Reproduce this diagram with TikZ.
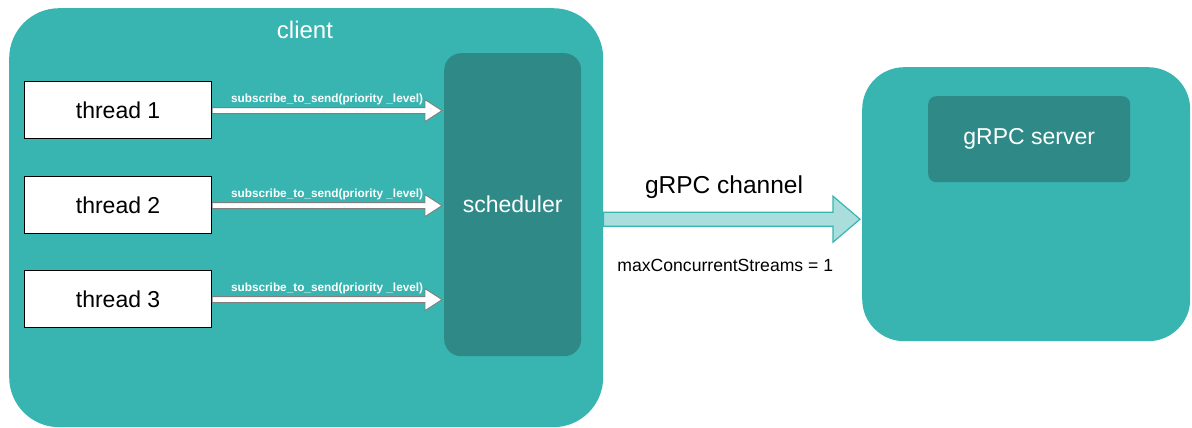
\documentclass[tikz,border=0pt]{standalone}
\usepackage{fontspec}
\setmainfont{Liberation Sans}
\usetikzlibrary{calc}
\definecolor{tealmain}{HTML}{38B5B1}
\definecolor{tealdark}{HTML}{2F8A87}
\definecolor{chanfill}{HTML}{A9DEDD}
\definecolor{arrowedge}{HTML}{7F7F7F}

% horizontal block arrow: start, tip, half shaft, head length, half head, style
\newcommand\blockarrow[6]{%
  \draw[#6] ($(#1)+(0,#3)$) -- ($(#2)+(-#4,#3)$) -- ($(#2)+(-#4,#5)$) -- (#2)
    -- ($(#2)+(-#4,-#5)$) -- ($(#2)+(-#4,-#3)$) -- ($(#1)+(0,-#3)$) -- cycle;}

\begin{document}
\begin{tikzpicture}[x=1pt,y=-1pt,
  container/.style={fill=tealmain, draw=none, anchor=north west, inner sep=0pt},
  inner/.style={fill=tealdark, draw=none, anchor=north west, inner sep=0pt},
  threadbox/.style={fill=white, draw=black, line width=1.2pt, anchor=north west,
    minimum width=187pt, minimum height=57pt, inner sep=0pt,
    font=\fontsize{23}{26}\selectfont},
  bigtext/.style={text=white, font=\fontsize{23}{26}\selectfont},
  calltext/.style={text=white, font=\bfseries\fontsize{11.8}{13}\selectfont, inner sep=0pt},
  callarrow/.style={fill=white, draw=arrowedge, line width=0.9pt, line join=miter},
  chanarrow/.style={fill=chanfill, draw=tealmain, line width=1.2pt, line join=miter},
]
\useasboundingbox (0,0) rectangle (1192,428);

% client container and its scheduler
\node[container, rounded corners=50pt, minimum width=594pt, minimum height=419pt] (client) at (9,8) {};
\node[bigtext, font=\fontsize{24}{26}\selectfont] (clientlbl) at (305,30) {client};
\node[inner, rounded corners=17pt, minimum width=137pt, minimum height=303pt] (sched) at (444,53) {};
\node[bigtext] (schedlbl) at (sched.center) {scheduler};

% server container
\node[container, rounded corners=42pt, minimum width=328pt, minimum height=274pt] (server) at (862,67) {};
\node[inner, rounded corners=8pt, minimum width=202pt, minimum height=86pt, bigtext] (grpcsrv) at (928,96) {gRPC server};

% worker threads
\node[threadbox] (t1) at (24,81) {thread 1};
\node[threadbox] (t2) at (24,176) {thread 2};
\node[threadbox] (t3) at (24,270) {thread 3};

% calls from threads into the scheduler
\foreach \t in {t1,t2,t3}{
  \coordinate (\t-tip) at ($(sched.west |- \t.east)+(-2,0.5)$);
  \coordinate (\t-tail) at ($(\t.east)+(0,0.5)$);
  \blockarrow{\t-tail}{\t-tip}{3}{17}{11}{callarrow}
  \node[calltext] at ($(\t-tail)!0.5!(\t-tip)+(0,-11)$) {subscribe\_to\_send(priority \_level)};
}

% channel to the server
\coordinate (ch-tail) at ($(client.east)+(0,1.5)$);
\coordinate (ch-tip) at ($(server.west |- ch-tail)+(-2,0)$);
\blockarrow{ch-tail}{ch-tip}{7}{27}{23}{chanarrow}
\node[font=\fontsize{24.5}{26}\selectfont] (chlbl) at ($(ch-tail)!0.47!(ch-tip)+(0,-32)$) {gRPC channel};
\node[font=\fontsize{17.6}{20}\selectfont] (chnote) at ($(ch-tail)!0.475!(ch-tip)+(0,46)$) {maxConcurrentStreams = 1};
\end{tikzpicture}
\end{document}
